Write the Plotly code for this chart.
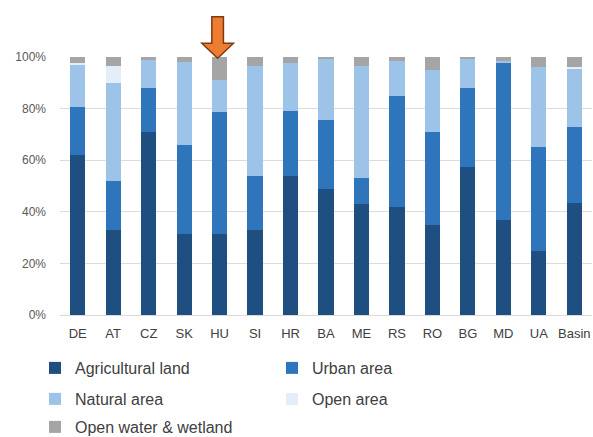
import plotly.graph_objects as go

countries = ["DE", "AT", "CZ", "SK", "HU", "SI", "HR", "BA", "ME", "RS", "RO", "BG", "MD", "UA", "Basin"]
agricultural = [62, 33, 71, 31.5, 31.5, 33, 54, 49, 43, 42, 35, 57.5, 37, 25, 43.5]
urban = [18.5, 19, 17, 34.5, 47, 21, 25, 26.5, 10, 43, 36, 30.5, 60.5, 40, 29.5]
natural = [16.5, 38, 11, 32, 12.5, 42.5, 18.5, 24, 43.5, 13.5, 24, 11.5, 1, 31, 22.5]
open_area = [0.5, 6.5, 0, 0, 0, 0, 0, 0, 0, 0, 0, 0, 0, 0, 0.5]
water = [2.5, 3.5, 1, 2, 9, 3.5, 2.5, 0.5, 3.5, 1.5, 5, 0.5, 1.5, 4, 4]
tick_vals = [0, 20, 40, 60, 80, 100]
tick_text = ["0%", "20%", "40%", "60%", "80%", "100%"]

series = [
    ("Agricultural land", agricultural, "#1f4e80", "legend"),
    ("Urban area", urban, "#2e75bb", "legend"),
    ("Natural area", natural, "#9dc3e8", "legend2"),
    ("Open area", open_area, "#e3eef9", "legend2"),
    ("Open water & wetland", water, "#a5a5a5", "legend3"),
]

fig = go.Figure()
for name, vals, col, lg in series:
    fig.add_trace(go.Bar(x=countries, y=vals, name=name, legend=lg,
                         marker=dict(color=col, line=dict(width=0))))

W, H = 593, 437
L, T = 60, 57
Rpx, Bpx = 591.6, 315
R, B = W - Rpx, H - Bpx
pw, ph = Rpx - L, Bpx - T

def px2paper(x, y):
    return (x - L) / pw, (Bpx - y) / ph

arrow_px = [(211.7, 16.7), (223.3, 16.7), (223.3, 43.3), (233.3, 43.3), (217.5, 58.3),
            (201.7, 43.3), (211.7, 43.3)]
pts = [px2paper(x, y) for x, y in arrow_px]
path = "M " + " L ".join(f"{a:.4f},{b:.4f}" for a, b in pts) + " Z"
fig.add_shape(type="path", path=path, xref="paper", yref="paper",
              fillcolor="#ed7d31", line=dict(color="#7f3a10", width=1.5))

lx = px2paper(35, 0)[0]
def leg(py):
    return dict(orientation="h", x=lx, xanchor="left", y=px2paper(0, py)[1], yanchor="middle",
                font=dict(size=16, color="#404040"), entrywidth=192, itemwidth=30,
                traceorder="normal", bgcolor="rgba(0,0,0,0)")

fig.update_layout(
    width=W, height=H,
    margin=dict(l=L, r=R, t=T, b=B, autoexpand=False),
    barmode="stack", bargap=0.57,
    plot_bgcolor="white", paper_bgcolor="white",
    font=dict(family="Liberation Sans, Arial, sans-serif", color="#404040"),
    xaxis=dict(tickfont=dict(size=13, color="#404040"), showgrid=False,
               showline=True, linecolor="#d9d9d9", ticks="", ticklabelstandoff=6),
    yaxis=dict(range=[0, 100], tickvals=tick_vals, ticktext=tick_text,
               tickfont=dict(size=12, color="#595959"), gridcolor="#dcdcdc",
               zeroline=False, ticks="", ticklabelstandoff=13),
    legend=leg(368), legend2=leg(399), legend3=leg(427),
    showlegend=True,
)

fig.write_html("out.html", config={"displayModeBar": False},
               post_script="document.body.style.margin='0px';"
                           "document.documentElement.style.overflow='hidden';")
